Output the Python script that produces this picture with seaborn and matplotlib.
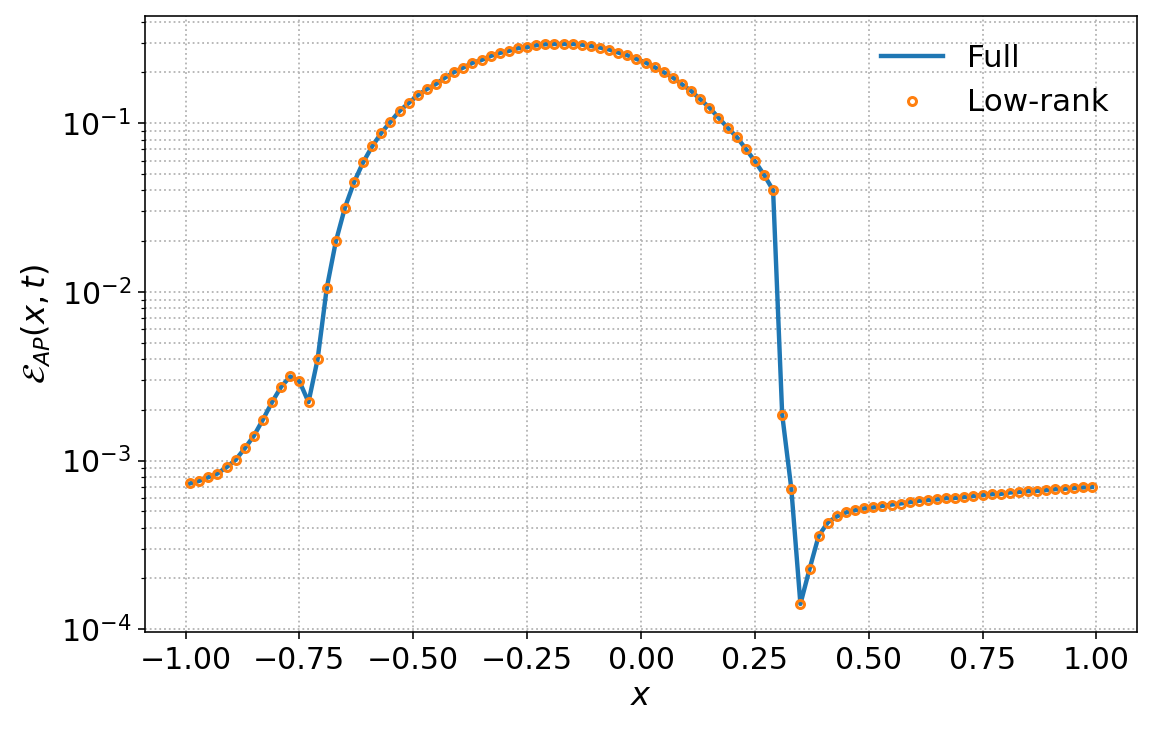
import numpy as np
import pandas as pd
import matplotlib
matplotlib.use("Agg")
import matplotlib.pyplot as plt
import seaborn as sns

# grid of x positions (step 0.02)
x_grid = np.round(np.arange(-0.99, 1.0, 0.02), 2)

full_err = [
    7.31e-4, 7.57e-4, 7.96e-4, 8.37e-4, 9.12e-4, 1.01e-3, 1.18e-3, 1.40e-3, 1.75e-3, 2.22e-3,
    2.74e-3, 3.15e-3, 2.95e-3, 2.22e-3, 3.99e-3, 1.05e-2, 1.99e-2, 3.16e-2, 4.47e-2, 5.87e-2,
    7.31e-2, 8.77e-2, 0.102, 0.1183, 0.1318, 0.1466, 0.1596, 0.171, 0.1866, 0.2013,
    0.2138, 0.228, 0.237, 0.2505, 0.261, 0.2685, 0.2786, 0.283, 0.2898, 0.2938,
    0.295, 0.295, 0.295, 0.2923, 0.287, 0.281, 0.2735, 0.2624, 0.253, 0.2405,
    0.229, 0.2148, 0.2004, 0.1866, 0.170, 0.1556, 0.1387, 0.1239, 0.108, 0.0942,
    0.083, 0.0705, 0.0596, 0.0495, 0.0401, 1.87e-3, 6.82e-4, 1.41e-4, 2.27e-4, 3.57e-4,
    4.29e-4, 4.66e-4, 4.92e-4, 5.07e-4, 5.20e-4, 5.27e-4, 5.38e-4, 5.48e-4, 5.56e-4, 5.66e-4,
    5.77e-4, 5.82e-4, 5.88e-4, 5.98e-4, 6.00e-4, 6.07e-4, 6.15e-4, 6.26e-4, 6.31e-4, 6.34e-4,
    6.46e-4, 6.51e-4, 6.58e-4, 6.60e-4, 6.67e-4, 6.76e-4, 6.80e-4, 6.86e-4, 6.92e-4, 6.96e-4,
]
lowrank_err = list(full_err)

series_labels = ["Full", "Low-rank"]
x_label = "$x$"
y_label = r"$\mathcal{E}_{AP}(x,t)$"

df_full = pd.DataFrame({"x": x_grid, "err": full_err})
df_low = pd.DataFrame({"x": x_grid, "err": lowrank_err})

fig, ax = plt.subplots(figsize=(1153 / 144, 730 / 144), dpi=144)
fig.subplots_adjust(left=145 / 1153, right=1137 / 1153, top=1 - 16 / 730, bottom=1 - 632 / 730)

sns.lineplot(data=df_full, x="x", y="err", ax=ax, color="C0", linewidth=2.2, label=series_labels[0])
sns.lineplot(data=df_low, x="x", y="err", ax=ax, color="C1", linestyle="", marker="o",
             markersize=4, markerfacecolor="none", markeredgecolor="C1", markeredgewidth=1.5,
             label=series_labels[1])

ax.set_yscale("log")
ax.grid(True, which="major", axis="x", linestyle=":", color="0.7", linewidth=0.9)
ax.grid(True, which="both", axis="y", linestyle=":", color="0.7", linewidth=0.9)
ax.set_xticks([-1.0, -0.75, -0.5, -0.25, 0.0, 0.25, 0.5, 0.75, 1.0])
ax.tick_params(axis="both", which="major", labelsize=15)
ax.set_xlabel(x_label, fontsize=16, labelpad=3)
ax.set_ylabel(y_label, fontsize=16)
ax.legend(loc="upper right", frameon=False, fontsize=15.5)

fig.savefig("out.png", dpi=144)
